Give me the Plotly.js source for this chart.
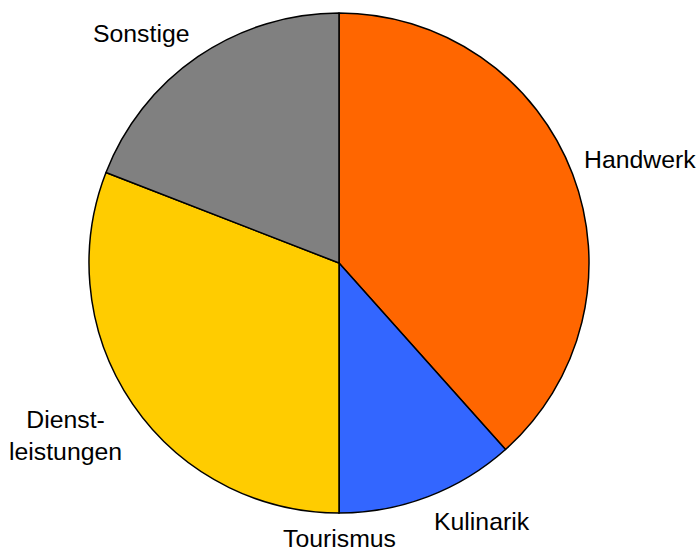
<!DOCTYPE html>
<html>
<head>
<meta charset="utf-8">
<script src="https://cdn.plot.ly/plotly-3.0.1.min.js"></script>
<style>html,body{margin:0;padding:0;background:#fff;}#chart{width:697px;height:551px;}</style>
</head>
<body>
<div id="chart"></div>
<script>
var categories = ['Handwerk', 'Kulinarik', 'Tourismus', 'Dienstleistungen', 'Sonstige'];
var labelText = ['Handwerk', 'Kulinarik', 'Tourismus', 'Dienst-<br>leistungen', 'Sonstige'];
var values = [38.4, 11.6, 0, 30.9, 19.1];
var colors = ['#FF6600', '#3366FF', '#FFFFFF', '#FFCC00', '#808080'];

var plotSize = 500;          // square plot area in px, pie radius = plotSize/2
var fontSize = 24.8;
var lineH = fontSize * 1.26;
var total = values.reduce(function (a, b) { return a + b; }, 0);
var annotations = [];
var cum = 0;
var labelR = 0.52; // in paper units
for (var i = 0; i < values.length; i++) {
  var mid = (cum + values[i] / 2) / total * 2 * Math.PI;
  cum += values[i];
  var s = Math.sin(mid), c = Math.cos(mid);
  var nLines = labelText[i].split('<br>').length;
  var h = nLines * lineH;
  var xa = s > 0.2 ? 'left' : (s < -0.2 ? 'right' : 'center');
  var yOffPx = (h / 2) * Math.cbrt(c); // push label box outward vertically
  annotations.push({
    xref: 'paper', yref: 'paper',
    x: 0.5 + labelR * s, y: 0.5 + labelR * c + yOffPx / plotSize,
    xanchor: xa, yanchor: 'middle', align: 'center',
    text: labelText[i], showarrow: false,
    font: {family: 'Liberation Sans, Arial, sans-serif', size: fontSize, color: '#000'}
  });
}

var data = [{
  type: 'pie',
  labels: categories,
  values: values,
  sort: false,
  direction: 'clockwise',
  rotation: 0,
  textinfo: 'none',
  hoverinfo: 'label+percent',
  marker: {colors: colors, line: {color: '#000', width: 1.5}},
  showlegend: false
}];

var layout = {
  width: 697, height: 551,
  margin: {l: 89, r: 108, t: 13, b: 38, pad: 0},
  paper_bgcolor: '#fff',
  plot_bgcolor: '#fff',
  showlegend: false,
  annotations: annotations
};

Plotly.newPlot('chart', data, layout, {displayModeBar: false, staticPlot: true});
</script>
</body>
</html>
